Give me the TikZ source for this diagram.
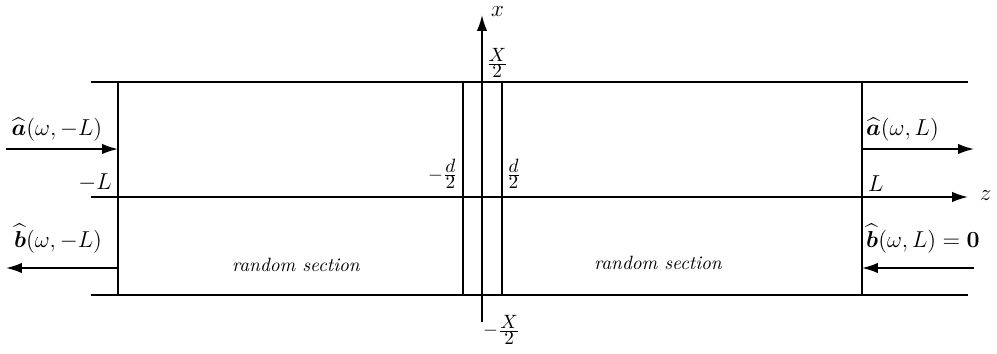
\documentclass[tikz,border=0pt]{standalone}
\usepackage{amsmath}
\usepackage{tikz}
\usetikzlibrary{
  arrows.meta,
  positioning,
  calc,
}
\definecolor{ink}{HTML}{000000}
\newcommand{\halfof}[1]{\frac{\textstyle #1}{\textstyle 2}}
\tikzset{
  every node/.style={
    text=ink,
    inner sep=2pt,
  },
  wall/.style={
    draw=ink, line width=0.9pt,
  },
  axis/.style={
    -{Latex[length=2.9mm,width=1.9mm]},
    draw=ink, line width=0.9pt,
  },
  wave/.style={
    -{Latex[length=2.9mm,width=1.9mm]},
    draw=ink, line width=0.9pt,
  },
  marklabel/.style={
    font=\large,
    inner sep=2pt,
  },
  fraclabel/.style={
    font=\normalsize,
    inner sep=2pt,
  },
  seclabel/.style={
    font=\itshape,
  },
}

\begin{document}
\begin{tikzpicture}[x=0.52pt, y=0.52pt]

% ============================================
% Coordinate system (px of the picture): x in [0,997], y in [0,353]
% Waveguide walls: y = 58 (bottom), 156 (axis), 271 (top)
% ============================================
\useasboundingbox (0,0) rectangle (997,353);

% ----- frame corners -----
\coordinate (topW)  at ( 91,271);
\coordinate (topE)  at (968,271);
\coordinate (botW)  at ( 91, 58);
\coordinate (botE)  at (968, 58);
\coordinate (midW)  at ( 91,156);
\coordinate (midE)  at (968,156);

% ----- section ends -----
\coordinate (leftT)  at (118,271);
\coordinate (leftB)  at (118, 58);
\coordinate (leftM)  at (118,156);
\coordinate (rightT) at (862,271);
\coordinate (rightB) at (862, 58);
\coordinate (rightM) at (862,156);

% ----- slab -----
\coordinate (slabLT) at (463,271);
\coordinate (slabLB) at (463, 58);
\coordinate (slabLM) at (463,156);
\coordinate (slabRT) at (502,271);
\coordinate (slabRB) at (502, 58);
\coordinate (slabRM) at (502,156);

% ----- x axis -----
\coordinate (xtop)  at (482,338);
\coordinate (xbot)  at (482, 31);
\coordinate (xwall) at (482,271);

% ----- wave ends -----
\coordinate (aW) at (  6,204);
\coordinate (aE) at (974,204);
\coordinate (bW) at (  6, 85);
\coordinate (bE) at (974, 85);

% ============================================
% Walls and axes
% ============================================
\draw[wall] (topW) -- (topE);
\draw[wall] (botW) -- (botE);
\draw[axis] (midW) -- (midE);
\draw[axis] (xbot) -- (xtop);

\draw[wall] (leftT)  -- (leftB);
\draw[wall] (rightT) -- (rightB);
\draw[wall] (slabLT) -- (slabLB);
\draw[wall] (slabRT) -- (slabRB);

% ============================================
% Incoming / outgoing waves
% ============================================
\draw[wave] (aW) -- (leftT |- aW);
\draw[wave] (leftT |- bW) -- (bW);
\draw[wave] (rightT |- aE) -- (aE);
\draw[wave] (bE) -- (rightT |- bE);

% ============================================
% Labels
% ============================================
\node[marklabel, right=4pt of midE, yshift=1pt] (zlab) {$z$};
\node[marklabel, anchor=west] (xlab) at ($(xtop)+(5,3)$) {$x$};
\node[fraclabel, anchor=south west] (xhi) at ($(xwall)+(0,0)$) {$\halfof{X}$};
\node[fraclabel, anchor=north west] (xlo) at ($(xbot)+(-3,11)$) {$-\halfof{X}$};

\node[fraclabel, anchor=south east] (mdlab) at ($(slabLM)+(-1,4)$) {$-\halfof{d}$};
\node[fraclabel, anchor=south west] (pdlab) at ($(slabRM)+(0,4)$) {$\halfof{d}$};

\node[marklabel, anchor=south east] (mLlab) at ($(leftM)+(-2,1)$) {$-L$};
\node[marklabel, anchor=south west] (pLlab) at ($(rightM)+(2,1)$) {$L$};

\node[marklabel, anchor=south] (alab)  at ($(aW)!0.5!(leftT |- aW)+(-5,4)$) {$\widehat{\boldsymbol{a}}(\omega,-L)$};
\node[marklabel, anchor=south] (blab)  at ($(bW)!0.5!(leftT |- bW)+(-4,11)$) {$\widehat{\boldsymbol{b}}(\omega,-L)$};
\node[marklabel, anchor=south west] (aRlab) at ($(rightT |- aE)+(0,4)$) {$\widehat{\boldsymbol{a}}(\omega,L)$};
\node[marklabel, anchor=south west] (bRlab) at ($(rightT |- bE)+(0,11)$) {$\widehat{\boldsymbol{b}}(\omega,L)=\mathbf{0}$};

\node[seclabel] (secL) at (296,88) {random section};
\node[seclabel] (secR) at (658,90) {random section};

\end{tikzpicture}
\end{document}
